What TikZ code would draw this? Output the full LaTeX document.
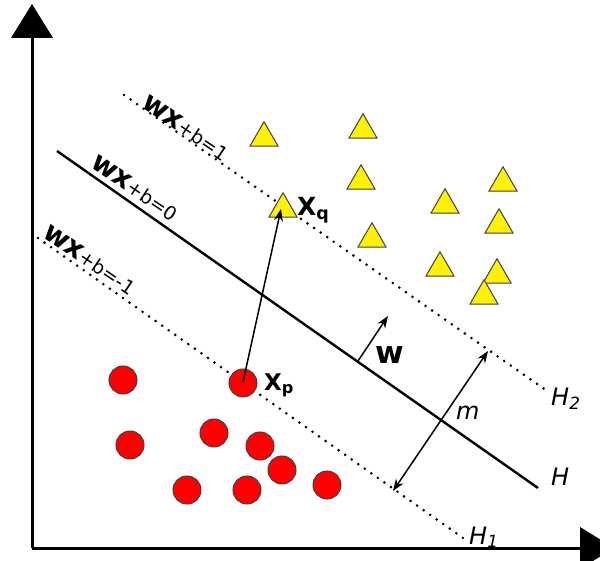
\documentclass[tikz,border=0pt]{standalone}
\usepackage{fontspec}
\setmainfont{DejaVu Sans}
\usetikzlibrary{arrows.meta,shapes.geometric}
\begin{document}
\begin{tikzpicture}[x=1pt,y=-1pt,
 axisline/.style={line width=3pt},
 hyper/.style={line width=2.4pt},
 dotline/.style={line width=2.9pt, line cap=round, dash pattern=on 0pt off 8pt},
 vec/.style={line width=1.5pt, -{Stealth[length=12pt,width=9pt]}},
 dvec/.style={line width=1.5pt, {Stealth[length=12pt,width=9pt]}-{Stealth[length=12pt,width=9pt]}},
 redpt/.style={circle, draw=black!75, line width=1pt, fill=red, minimum size=28pt, inner sep=0pt},
 yelpt/.style={regular polygon, regular polygon sides=3, draw=black!75, line width=1pt, fill=yellow, minimum size=32.5pt, inner sep=0pt},
 lab/.style={inner sep=0pt, anchor=base west},
 big/.style={font=\fontsize{24}{24}\selectfont},
 planelab/.style={lab, rotate=-34},
]
\useasboundingbox (0,0) rectangle (600,561);
\clip (0,0) rectangle (600,561);

% axes
\coordinate (O) at (32,548);
\coordinate (ytop) at (32,36);
\coordinate (xend) at (582,548);
\draw[axisline] (O) -- (ytop);
\draw[axisline] (O) -- (xend);
\fill (11,38) -- (53,38) -- (32,4) -- cycle;
\fill (580,527) -- (580,569) -- (614,548) -- cycle;

% hyperplanes
\coordinate (h2a) at (124,95);
\coordinate (h2b) at (550,393);
\coordinate (ha) at (57,151);
\coordinate (hb) at (538,488);
\coordinate (h1a) at (38,238);
\coordinate (h1b) at (463,538);
\draw[dotline] (h2a) -- (h2b);
\draw[hyper] (ha) -- (hb);
\draw[dotline] (h1a) -- (h1b);

% plane labels
\node[planelab] (l2) at (140,106) {{\fontsize{28}{28}\selectfont\bfseries wx}{\fontsize{19}{19}\selectfont +b=1}};
\node[planelab] (l0) at (89,166) {{\fontsize{28}{28}\selectfont\bfseries wx}{\fontsize{19}{19}\selectfont +b=0}};
\node[planelab] (l1) at (41,236) {{\fontsize{28}{28}\selectfont\bfseries wx}{\fontsize{19}{19}\selectfont +b=-1}};

% triangles
\foreach \i/\x/\y in {1/264/138, 2/363/130, 3/361/181, 5/503/183, 6/445/205, 7/499/225, 8/372/239, 9/440/268, 10/497/275, 11/484/296}
  \node[yelpt] (t\i) at (\x,\y) {};
\node[yelpt] (xq) at (283,209) {};

% circles
\foreach \i/\x/\y in {1/123/380, 3/130/445, 4/214/433, 5/260/446, 6/282/470, 7/187/490, 8/247/490, 9/327/485}
  \node[redpt] (c\i) at (\x,\y) {};
\node[redpt] (xp) at (243,383) {};

% vectors
\coordinate (xpc) at (243,382);
\coordinate (xqc) at (281,209);
\draw[vec] (xpc) -- (xqc);
\coordinate (wb) at (358,361);
\coordinate (wt) at (388,316);
\draw[vec] (wb) -- (wt);
\coordinate (ma) at (393,491);
\coordinate (mb) at (488,351);
\draw[dvec] (ma) -- (mb);

% labels
\node[lab, font=\fontsize{25}{25}\selectfont\bfseries] (lxq) at (297,216) {X\textsubscript{q}};
\node[lab, font=\fontsize{23}{23}\selectfont\bfseries] (lxp) at (264,390) {X\textsubscript{p}};
\node[lab, font=\fontsize{31}{31}\selectfont\bfseries] (lw) at (375,364) {w};
\node[lab, big] (lm) at (456,420) {\itshape m};
\node[lab, big] (lh2) at (551,406) {\itshape H\textsubscript{2}};
\node[lab, big] (lh) at (551,485) {\itshape H};
\node[lab, big] (lh1) at (469,544) {\itshape H\textsubscript{1}};
\end{tikzpicture}
\end{document}
